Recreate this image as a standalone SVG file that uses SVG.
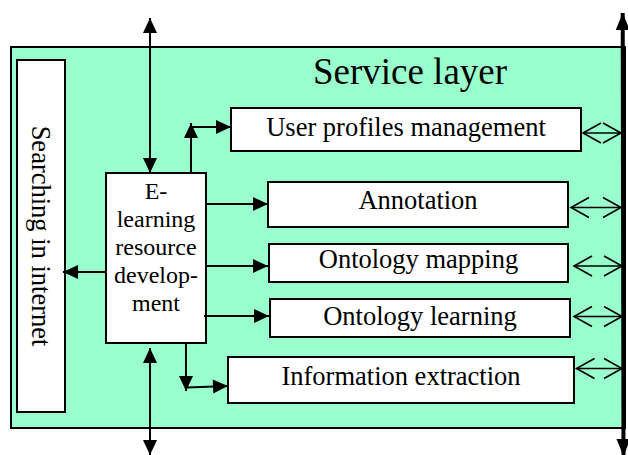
<svg xmlns="http://www.w3.org/2000/svg" width="628" height="455" viewBox="0 0 628 455">
  <style>
    .box { fill: #ffffff; stroke: #000000; stroke-width: 2; }
    .layer { fill: #99FFCC; stroke: #000000; stroke-width: 2; }
    .lbl { font-family: "Liberation Serif", "Times New Roman", serif; font-size: 26.5px; fill: #000000; text-anchor: middle; }
    .small { font-size: 24px; }
    .title { font-size: 37px; }
    .conn { stroke: #000000; stroke-width: 2; fill: none; }
    .dbl { stroke: #000000; stroke-width: 1.6; fill: none; }
    .thick { stroke: #000000; stroke-width: 4; fill: none; }
  </style>
  <defs>
    <marker id="ah" markerUnits="userSpaceOnUse" markerWidth="16" markerHeight="14" refX="15" refY="7" orient="auto-start-reverse" overflow="visible">
      <path d="M0,0 L15,7 L0,14 Z" fill="#000000"/>
    </marker>
    <marker id="open" markerUnits="userSpaceOnUse" markerWidth="20" markerHeight="21" refX="18" refY="10" orient="auto-start-reverse" overflow="visible">
      <path d="M0,0 L18,10 L0,20" fill="none" stroke="#000000" stroke-width="1.6"/>
    </marker>
    <marker id="big" markerUnits="userSpaceOnUse" markerWidth="18" markerHeight="16" refX="17" refY="7" orient="auto-start-reverse" overflow="visible">
      <path d="M0,0 L17,7 L0,14 Z" fill="#000000"/>
    </marker>
  </defs>

  <g id="service-layer">
    <rect class="layer" x="11" y="47" width="614" height="381"/>
    <text class="lbl title" x="410" y="84">Service layer</text>
  </g>

  <g id="searching-in-internet">
    <rect class="box" x="17" y="60" width="48" height="352"/>
    <text class="lbl" transform="translate(32,236) rotate(90)">Searching in internet</text>
  </g>

  <g id="elearning-resource-development">
    <rect class="box" x="106" y="173" width="100" height="170"/>
    <text class="lbl small" x="156" y="199">E-</text>
    <text class="lbl small" x="156" y="227">learning</text>
    <text class="lbl small" x="156" y="255">resource</text>
    <text class="lbl small" x="156" y="283">develop-</text>
    <text class="lbl small" x="156" y="311">ment</text>
  </g>

  <g id="user-profiles-management">
    <rect class="box" x="231" y="108" width="350" height="43"/>
    <text class="lbl" x="406" y="136">User profiles management</text>
  </g>

  <g id="annotation">
    <rect class="box" x="268" y="182" width="300" height="45"/>
    <text class="lbl" x="418" y="209">Annotation</text>
  </g>

  <g id="ontology-mapping">
    <rect class="box" x="269" y="244" width="299" height="38"/>
    <text class="lbl" x="418.5" y="268">Ontology mapping</text>
  </g>

  <g id="ontology-learning">
    <rect class="box" x="270" y="299" width="300" height="38"/>
    <text class="lbl" x="420" y="325">Ontology learning</text>
  </g>

  <g id="information-extraction">
    <rect class="box" x="228" y="357" width="346" height="46"/>
    <text class="lbl" x="401" y="385">Information extraction</text>
  </g>

  <g id="connectors">
    <line class="conn" x1="150" y1="18" x2="150" y2="173" marker-start="url(#ah)" marker-end="url(#ah)"/>
    <line class="conn" x1="150" y1="348" x2="150" y2="455" marker-start="url(#ah)" marker-end="url(#ah)"/>
    <line class="conn" x1="191" y1="173" x2="191" y2="123" marker-end="url(#ah)"/>
    <line class="conn" x1="191" y1="127" x2="231" y2="127" marker-end="url(#ah)"/>
    <line class="conn" x1="206" y1="204" x2="268" y2="204" marker-end="url(#ah)"/>
    <line class="conn" x1="206" y1="266" x2="268" y2="266" marker-end="url(#ah)"/>
    <line class="conn" x1="204" y1="316" x2="269" y2="316" marker-end="url(#ah)"/>
    <line class="conn" x1="106" y1="272" x2="63" y2="272" marker-end="url(#ah)"/>
    <line class="conn" x1="186" y1="343" x2="186" y2="391" marker-end="url(#ah)"/>
    <line class="conn" x1="187" y1="387.5" x2="228" y2="386" marker-end="url(#ah)"/>

    <line class="dbl" x1="583" y1="133" x2="621" y2="133" marker-start="url(#open)" marker-end="url(#open)"/>
    <line class="dbl" x1="571" y1="207.5" x2="621" y2="207.5" marker-start="url(#open)" marker-end="url(#open)"/>
    <line class="dbl" x1="574" y1="266" x2="622" y2="266" marker-start="url(#open)" marker-end="url(#open)"/>
    <line class="dbl" x1="574" y1="316.5" x2="622" y2="316.5" marker-start="url(#open)" marker-end="url(#open)"/>
    <line class="dbl" x1="576.5" y1="368.5" x2="622" y2="368.5" marker-start="url(#open)" marker-end="url(#open)"/>

    <line class="thick" x1="622.7" y1="13" x2="623.5" y2="456" marker-start="url(#big)" marker-end="url(#big)"/>
  </g>
</svg>
